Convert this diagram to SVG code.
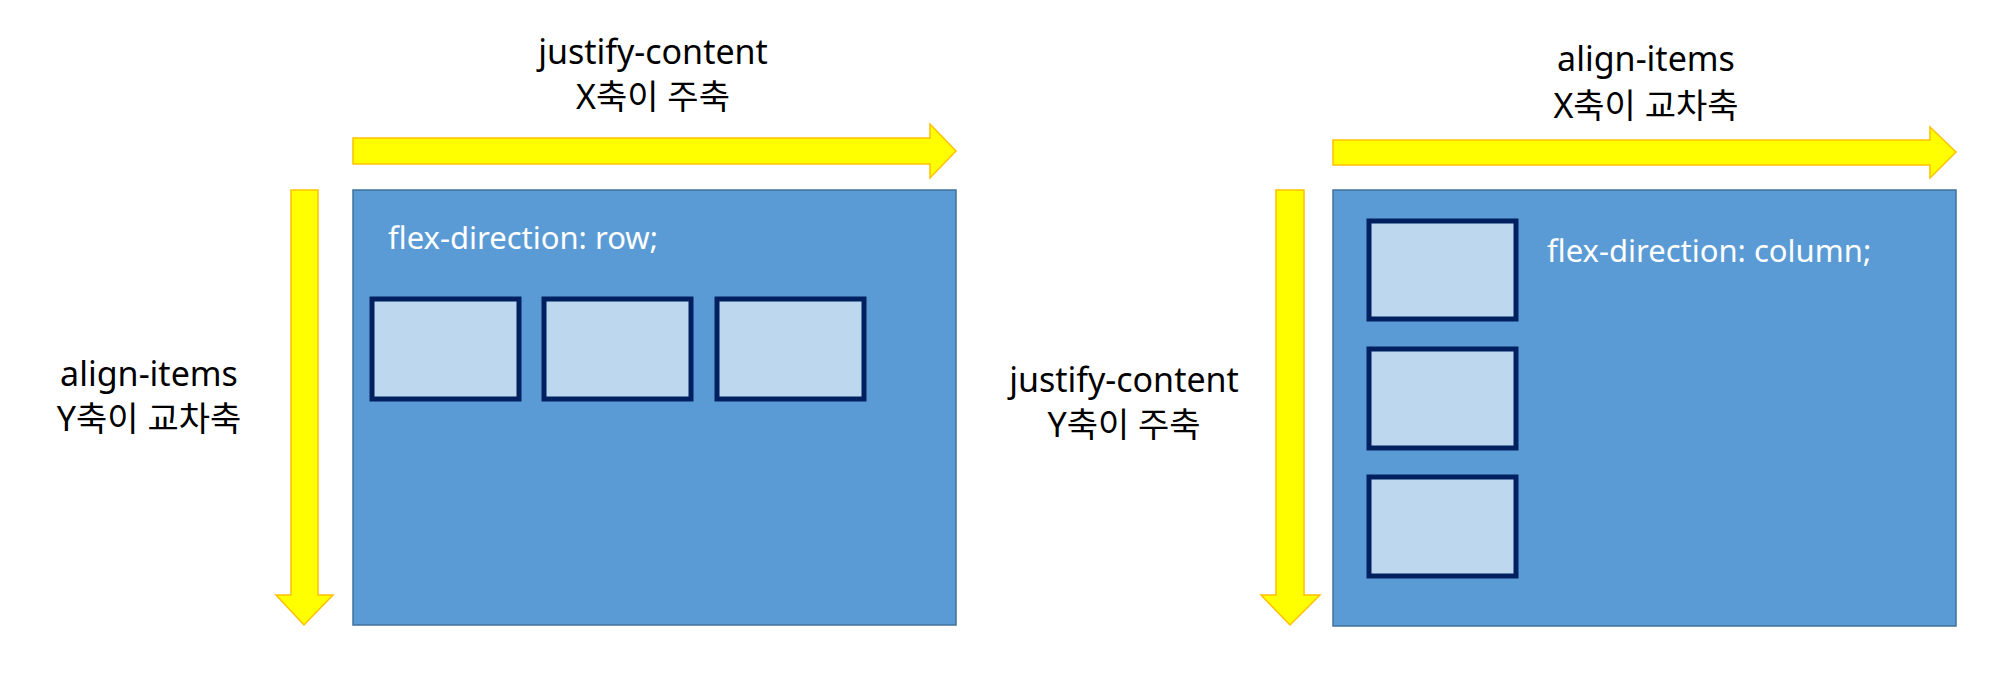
<svg xmlns="http://www.w3.org/2000/svg" width="1993" height="679" viewBox="0 0 1993 679">
<style>
.box{fill:#5B9BD5;stroke:#41719C;stroke-width:1.5}
.item{fill:#BDD7EE;stroke:#002060;stroke-width:5}
.arr{fill:#FFFF00;stroke:#FFC000;stroke-width:1.5}
text{font-family:"Noto Sans","Noto Sans CJK KR",sans-serif;font-size:34px;fill:#000;text-anchor:middle}
.w{fill:#fff;font-size:31px;text-anchor:start}
</style>
<rect width="1993" height="679" fill="#fff"/>
<g id="connectors">
<polygon class="arr" points="353,138 930,138 930,124 956,151 930,178 930,164 353,164"/>
<polygon class="arr" points="1333,140 1930,140 1930,127 1956,152 1930,178 1930,165 1333,165"/>
<polygon class="arr" points="291,190 318,190 318,595 333,595 304,625 276,595 291,595"/>
<polygon class="arr" points="1276,190 1304,190 1304,595 1320,595 1290,625 1261,595 1276,595"/>
</g>
<g id="row-container">
<rect class="box" x="353" y="190" width="603" height="435"/>
<text class="w" x="388" y="249">flex-direction: row;</text>
</g>
<g id="row-item1"><rect class="item" x="372" y="299" width="147" height="100"/></g>
<g id="row-item2"><rect class="item" x="544" y="299" width="147" height="100"/></g>
<g id="row-item3"><rect class="item" x="717" y="299" width="147" height="100"/></g>
<g id="col-container">
<rect class="box" x="1333" y="190" width="623" height="436"/>
<text class="w" x="1547" y="262">flex-direction: column;</text>
</g>
<g id="col-item1"><rect class="item" x="1369" y="221" width="147" height="98"/></g>
<g id="col-item2"><rect class="item" x="1369" y="349" width="147" height="99"/></g>
<g id="col-item3"><rect class="item" x="1369" y="477" width="147" height="99"/></g>
<g id="labels">
<text x="653" y="64">justify-content</text>
<text x="653" y="109">X축이 주축</text>
<text x="1646" y="71">align-items</text>
<text x="1646" y="118">X축이 교차축</text>
<text x="149" y="386">align-items</text>
<text x="149" y="431">Y축이 교차축</text>
<text x="1124" y="392">justify-content</text>
<text x="1124" y="437">Y축이 주축</text>
</g>
</svg>
